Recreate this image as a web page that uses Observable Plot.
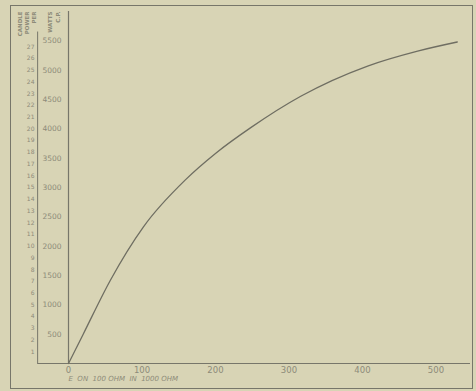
<!DOCTYPE html>
<html>
<head>
<meta charset="utf-8">
<script src="https://cdn.jsdelivr.net/npm/d3@7"></script>
<script src="https://cdn.jsdelivr.net/npm/@observablehq/plot@0.6"></script>
<style>
  html, body { margin: 0; padding: 0; background: #d8d4b5; }
  #chart svg { display: block; }
</style>
</head>
<body>
<div id="chart"></div>
<script>
// Curve
const xValues = [0, 20, 57, 102, 159, 200, 248, 316, 407, 475, 529];
const yValues = [0, 500, 1420, 2330, 3130, 3580, 4020, 4555, 5070, 5325, 5480];
const xTicks = [0, 100, 200, 300, 400, 500];
const yTicks = [500, 1000, 1500, 2000, 2500, 3000, 3500, 4000, 4500, 5000, 5500];
const secondaryTicks = d3.range(1, 28); // 1..27, one every 200 units
const xLabel = "E  ON  100 OHM  IN  1000 OHM";
const headerLeft = ["CANDLE", "POWER", "PER"];
const headerRight = ["WATTS", "C.P."];

const data = xValues.map((x, i) => ({x, y: yValues[i]}));
const ink = "#77766a";
const faded = "#8d8b79";

const header = (text, dx) => Plot.text([text], {
  frameAnchor: "top-left", dx, dy: 0, rotate: -90, fontSize: 5.5,
  fontWeight: "bold", fill: faded, textAnchor: "end"
});

const chart = Plot.plot({
  width: 476,
  height: 391,
  marginLeft: 68,
  marginRight: 6,
  marginTop: 11,
  marginBottom: 28,
  style: {background: "#d8d4b5", fontFamily: "DejaVu Sans", color: faded},
  x: {domain: [0, 547]},
  y: {domain: [0, 6000]},
  marks: [
    Plot.frame({stroke: ink, strokeWidth: 1, insetLeft: -58, insetTop: -6, insetBottom: -25, insetRight: -2}),
    Plot.ruleX([0], {y1: 0, y2: 6000, stroke: ink, strokeWidth: 1.2}),
    Plot.ruleX([-42], {y1: 0, y2: 5650, stroke: ink, strokeWidth: 1}),
    Plot.ruleY([0], {x1: -42, x2: 547, stroke: ink, strokeWidth: 1.2}),
    Plot.axisY(yTicks, {tickSize: 0, tickPadding: 7, fontSize: 7.5, fill: faded, label: null, tickFormat: "d"}),
    Plot.axisY(secondaryTicks.map(k => k * 200), {
      tickSize: 0, tickPadding: 34, fontSize: 6, fill: faded, label: null,
      tickFormat: d => String(d / 200)
    }),
    Plot.axisX(xTicks, {tickSize: 0, tickPadding: 3, fontSize: 8.5, fill: faded, label: null}),
    Plot.text([xLabel], {
      frameAnchor: "bottom-left", dx: 0, dy: 17, fontSize: 7, fontStyle: "italic",
      fill: faded, textAnchor: "start"
    }),
    header(headerLeft[0], -50),
    header(headerLeft[1], -43),
    header(headerLeft[2], -36),
    header(headerRight[0], -20),
    header(headerRight[1], -12),
    Plot.line(data, {x: "x", y: "y", curve: "monotone-x", stroke: "#6f6e62", strokeWidth: 1.3})
  ]
});
document.getElementById("chart").appendChild(chart);
</script>
</body>
</html>
